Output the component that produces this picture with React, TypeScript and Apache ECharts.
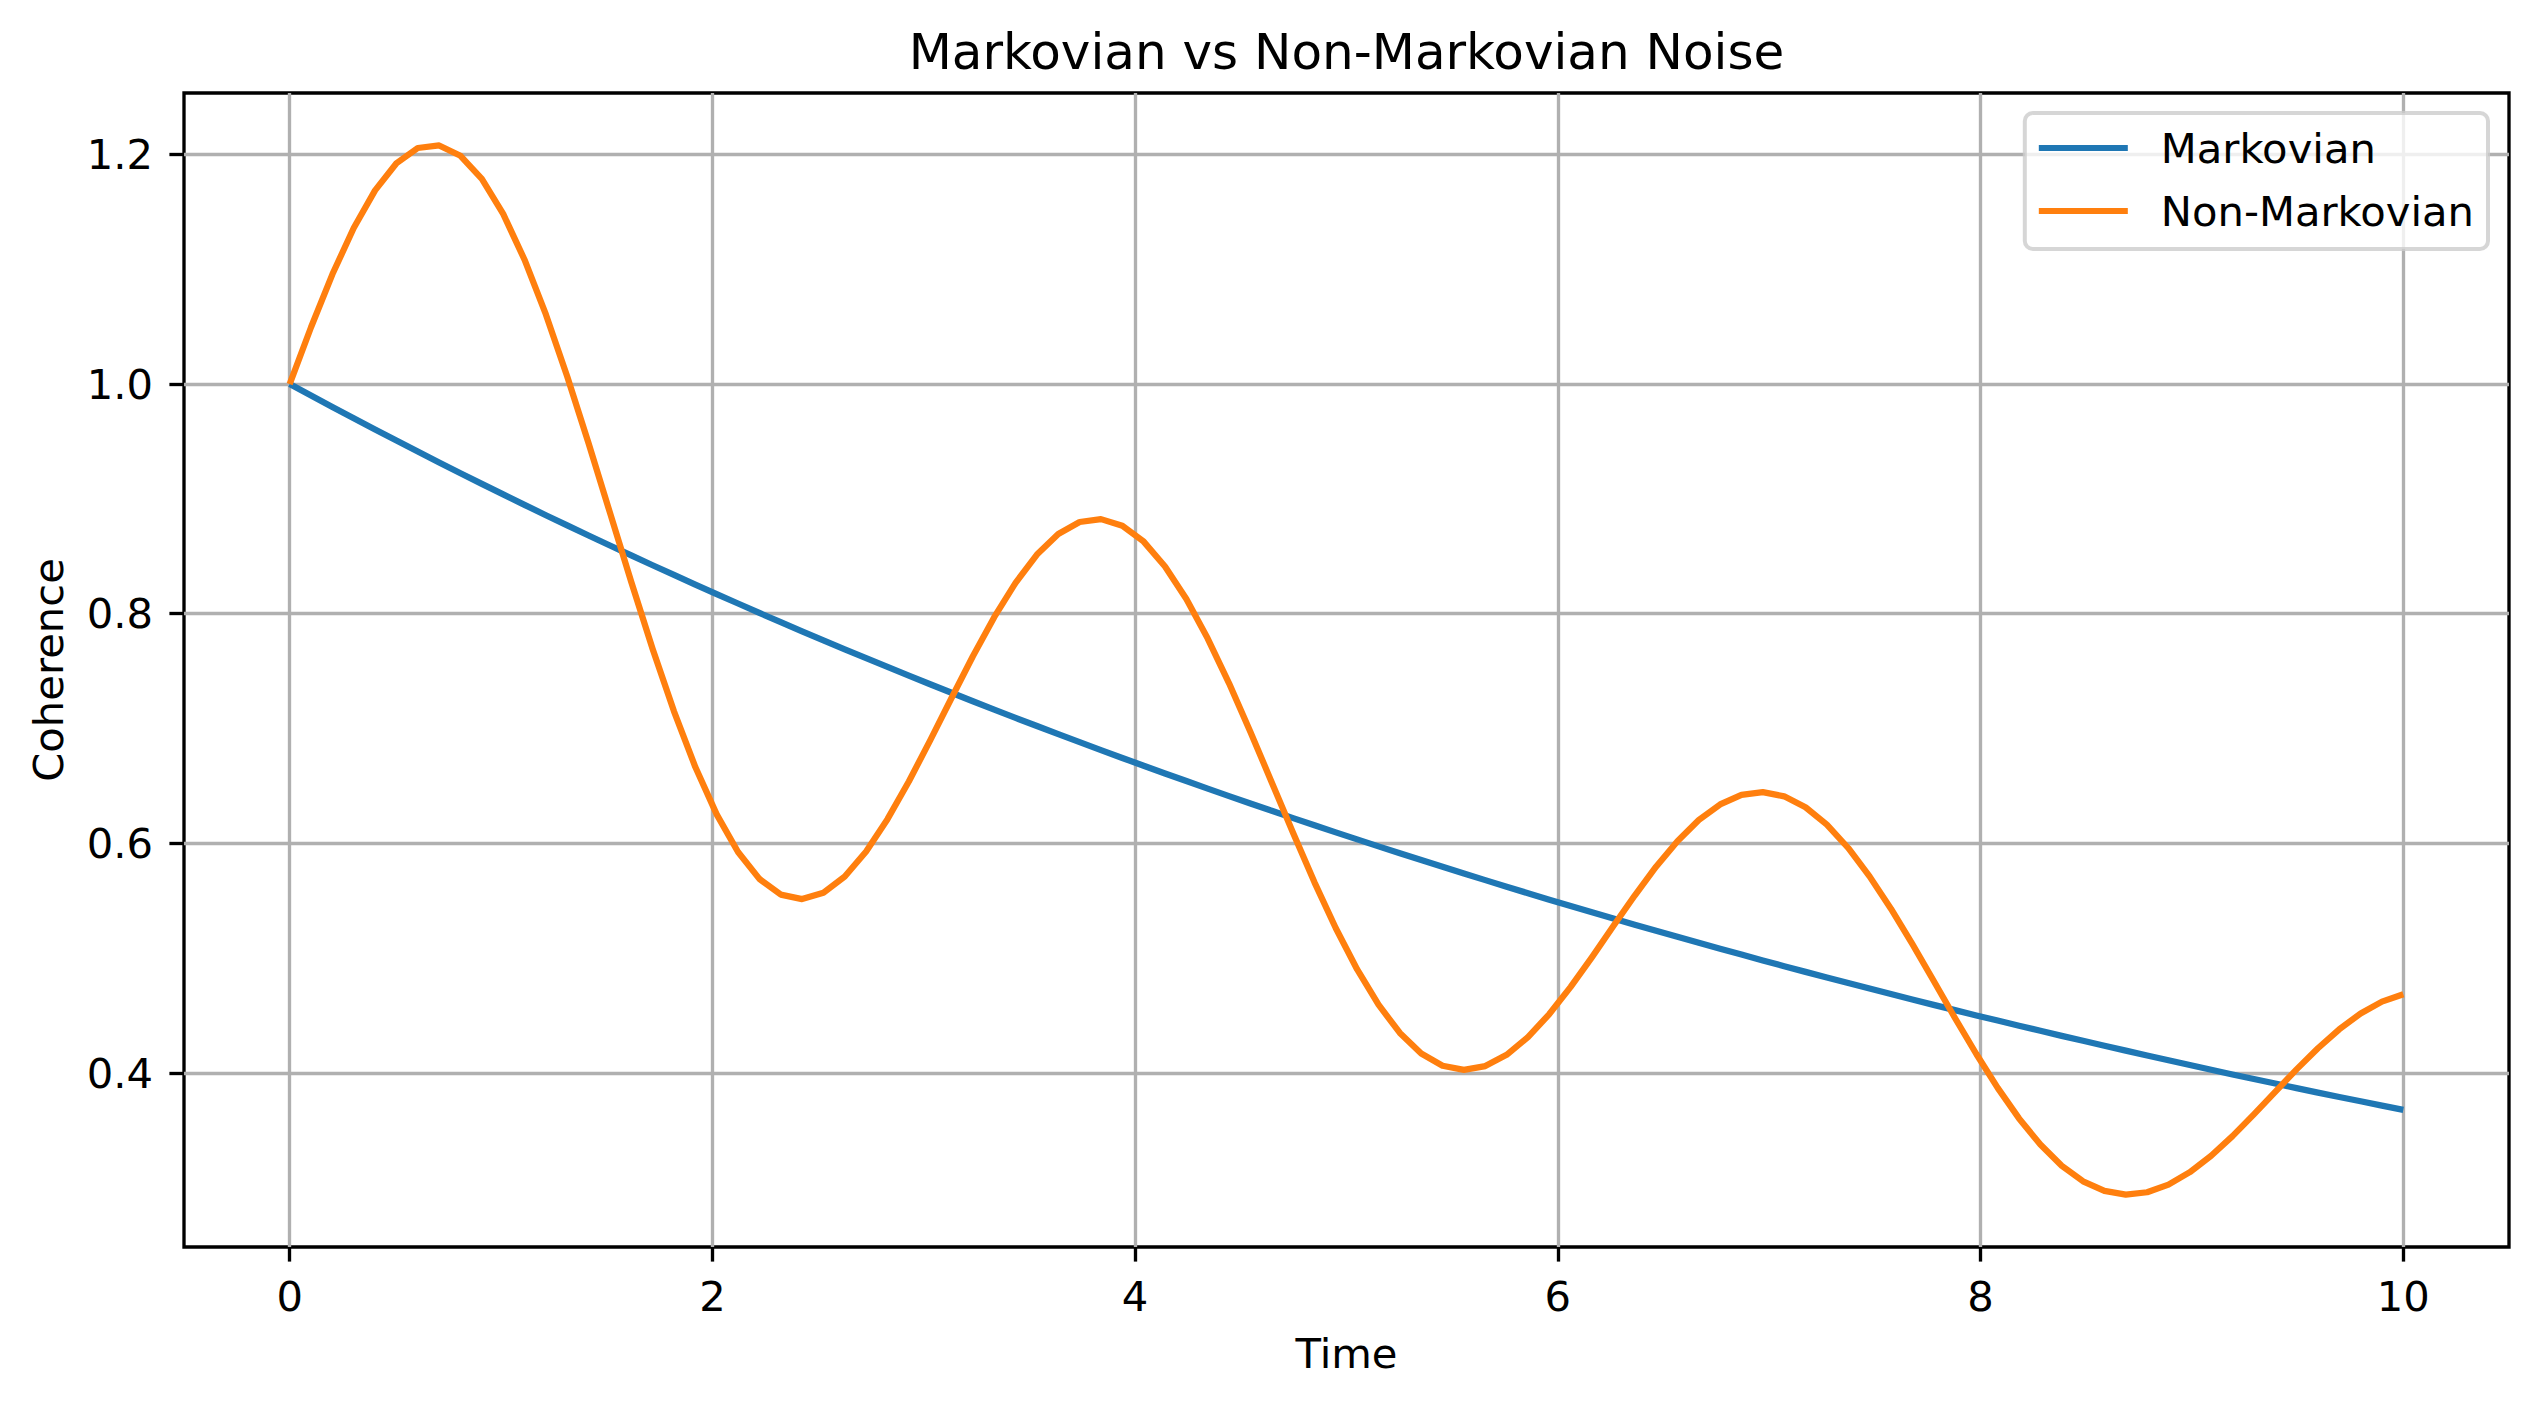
import React, { useEffect, useRef } from "react";
import * as echarts from "echarts";

// Sample times (s) shared by both curves
const time = [
  0, 0.101, 0.202, 0.303, 0.404, 0.5051, 0.6061, 0.7071, 0.8081, 0.9091,
  1.0101, 1.1111, 1.2121, 1.3131, 1.4141, 1.5152, 1.6162, 1.7172, 1.8182, 1.9192,
  2.0202, 2.1212, 2.2222, 2.3232, 2.4242, 2.5253, 2.6263, 2.7273, 2.8283, 2.9293,
  3.0303, 3.1313, 3.2323, 3.3333, 3.4343, 3.5354, 3.6364, 3.7374, 3.8384, 3.9394,
  4.0404, 4.1414, 4.2424, 4.3434, 4.4444, 4.5455, 4.6465, 4.7475, 4.8485, 4.9495,
  5.0505, 5.1515, 5.2525, 5.3535, 5.4545, 5.5556, 5.6566, 5.7576, 5.8586, 5.9596,
  6.0606, 6.1616, 6.2626, 6.3636, 6.4646, 6.5657, 6.6667, 6.7677, 6.8687, 6.9697,
  7.0707, 7.1717, 7.2727, 7.3737, 7.4747, 7.5758, 7.6768, 7.7778, 7.8788, 7.9798,
  8.0808, 8.1818, 8.2828, 8.3838, 8.4848, 8.5859, 8.6869, 8.7879, 8.8889, 8.9899,
  9.0909, 9.1919, 9.2929, 9.3939, 9.4949, 9.596, 9.697, 9.798, 9.899, 10,
];

// Coherence under memoryless (Markovian) dephasing
const markovian = [
  1.0, 0.99, 0.98, 0.9702, 0.9604, 0.9508, 0.9412, 0.9317, 0.9224, 0.9131,
  0.9039, 0.8948, 0.8858, 0.8769, 0.8681, 0.8594, 0.8508, 0.8422, 0.8338, 0.8254,
  0.8171, 0.8089, 0.8007, 0.7927, 0.7847, 0.7768, 0.769, 0.7613, 0.7537, 0.7461,
  0.7386, 0.7312, 0.7238, 0.7165, 0.7093, 0.7022, 0.6951, 0.6882, 0.6812, 0.6744,
  0.6676, 0.6609, 0.6543, 0.6477, 0.6412, 0.6347, 0.6284, 0.622, 0.6158, 0.6096,
  0.6035, 0.5974, 0.5914, 0.5855, 0.5796, 0.5738, 0.568, 0.5623, 0.5566, 0.551,
  0.5455, 0.54, 0.5346, 0.5292, 0.5239, 0.5186, 0.5134, 0.5083, 0.5032, 0.4981,
  0.4931, 0.4881, 0.4832, 0.4784, 0.4736, 0.4688, 0.4641, 0.4594, 0.4548, 0.4502,
  0.4457, 0.4412, 0.4368, 0.4324, 0.4281, 0.4238, 0.4195, 0.4153, 0.4111, 0.407,
  0.4029, 0.3988, 0.3948, 0.3909, 0.3869, 0.383, 0.3792, 0.3754, 0.3716, 0.3679,
];

// Coherence with memory effects (revivals from information backflow)
const nonMarkovian = [
  1.0, 1.0495, 1.0956, 1.1359, 1.1687, 1.1923, 1.2056, 1.2078, 1.1988, 1.1787,
  1.1482, 1.1083, 1.0606, 1.0066, 0.9484, 0.888, 0.8276, 0.7693, 0.715, 0.6665,
  0.6253, 0.5925, 0.5691, 0.5554, 0.5515, 0.557, 0.5712, 0.593, 0.6211, 0.6539,
  0.6897, 0.7266, 0.763, 0.797, 0.8269, 0.8515, 0.8694, 0.8799, 0.8824, 0.8767,
  0.8628, 0.8412, 0.8128, 0.7784, 0.7394, 0.6971, 0.6531, 0.609, 0.5661, 0.5261,
  0.4902, 0.4595, 0.4349, 0.4171, 0.4064, 0.4028, 0.4061, 0.4159, 0.4313, 0.4514,
  0.475, 0.501, 0.528, 0.5546, 0.5797, 0.6019, 0.6203, 0.6339, 0.6422, 0.6446,
  0.641, 0.6315, 0.6163, 0.596, 0.5713, 0.5431, 0.5124, 0.4804, 0.448, 0.4166,
  0.3871, 0.3605, 0.3377, 0.3193, 0.3057, 0.2974, 0.2942, 0.2962, 0.3028, 0.3137,
  0.328, 0.3451, 0.364, 0.3836, 0.4032, 0.4216, 0.4381, 0.4519, 0.4622, 0.4686,
];

const seriesNames = ["Markovian", "Non-Markovian"];
const seriesColors = ["#1f77b4", "#ff7f0e"];
const xTicks = [0, 2, 4, 6, 8, 10];
const yTicks = [0.4, 0.6, 0.8, 1.0, 1.2];

const W = 2539;
const H = 1407;
const FONT = "'DejaVu Sans', 'Liberation Sans', sans-serif";
const PLOT = { left: 184, top: 93, right: 2509, bottom: 1247 };
const TICK_FONT = 41.7;
const SPINE = 3.33;

// Axis limits with a 5% margin on each side of the data extent
function paddedRange(values: number[], frac = 0.05): [number, number] {
  const lo = Math.min(...values);
  const hi = Math.max(...values);
  const pad = (hi - lo) * frac;
  return [lo - pad, hi + pad];
}

export default function App() {
  const ref = useRef<HTMLDivElement>(null);

  useEffect(() => {
    if (!ref.current) return;
    const chart = echarts.init(ref.current, null, { renderer: "svg", width: W, height: H });
    const [xMin, xMax] = paddedRange(time);
    const [yMin, yMax] = paddedRange([...markovian, ...nonMarkovian]);

    const line = (idx: number, values: number[]) => ({
      type: "line",
      name: seriesNames[idx],
      data: time.map((t, i) => [t, values[i]]),
      symbol: "none",
      showSymbol: false,
      silent: true,
      lineStyle: { width: 6.25, color: seriesColors[idx], join: "round", cap: "butt" },
      itemStyle: { color: seriesColors[idx] },
      emphasis: { disabled: true },
    });

    chart.setOption({
      animation: false,
      backgroundColor: "#ffffff",
      textStyle: { fontFamily: FONT },
      graphic: [
        {
          type: "text",
          x: (PLOT.left + PLOT.right) / 2,
          y: 51.7,
          z: 10,
          style: {
            text: "Markovian vs Non-Markovian Noise",
            fontFamily: FONT,
            fontSize: 50,
            fill: "#000",
            align: "center",
            verticalAlign: "middle",
          },
        },
      ],
      grid: {
        left: PLOT.left,
        top: PLOT.top,
        width: PLOT.right - PLOT.left,
        height: PLOT.bottom - PLOT.top,
        show: true,
        borderColor: "#000",
        borderWidth: SPINE,
        backgroundColor: "transparent",
        containLabel: false,
      },
      legend: {
        data: seriesNames,
        orient: "vertical",
        right: W - 2488,
        top: 113,
        icon: "rect",
        itemWidth: 89,
        itemHeight: 6,
        itemGap: 21,
        selectedMode: false,
        padding: [14, 14, 17, 14],
        backgroundColor: "rgba(255,255,255,0.8)",
        borderColor: "rgba(204,204,204,0.8)",
        borderWidth: 4,
        borderRadius: 8,
        textStyle: {
          fontFamily: FONT,
          fontSize: TICK_FONT,
          color: "#000",
          lineHeight: 42,
          padding: [0, 0, 0, 28],
        },
      },
      xAxis: {
        type: "value",
        min: xMin,
        max: xMax,
        name: "Time",
        nameLocation: "middle",
        nameGap: 85,
        nameTextStyle: { fontFamily: FONT, fontSize: TICK_FONT, color: "#000" },
        axisLine: { show: false, onZero: false },
        axisTick: {
          show: true,
          length: 14.6,
          lineStyle: { color: "#000", width: SPINE },
          customValues: xTicks,
        },
        axisLabel: {
          customValues: xTicks,
          fontFamily: FONT,
          fontSize: TICK_FONT,
          color: "#000",
          margin: 28,
          formatter: (v: number) => String(v),
        },
        splitLine: { show: true, lineStyle: { color: "#b0b0b0", width: SPINE } },
      },
      yAxis: {
        type: "value",
        min: yMin,
        max: yMax,
        name: "Coherence",
        nameLocation: "middle",
        nameGap: 114.6,
        nameRotate: 90,
        nameTextStyle: { fontFamily: FONT, fontSize: TICK_FONT, color: "#000" },
        axisLine: { show: false, onZero: false },
        axisTick: {
          show: true,
          length: 14.6,
          lineStyle: { color: "#000", width: SPINE },
          customValues: yTicks,
        },
        axisLabel: {
          customValues: yTicks,
          fontFamily: FONT,
          fontSize: TICK_FONT,
          color: "#000",
          margin: 31,
          formatter: (v: number) => v.toFixed(1),
        },
        splitLine: { show: true, lineStyle: { color: "#b0b0b0", width: SPINE } },
      },
      series: [line(0, markovian), line(1, nonMarkovian)],
    });

    return () => chart.dispose();
  }, []);

  return (
    <div
      ref={ref}
      style={{ position: "fixed", left: 0, top: 0, width: W, height: H, background: "#fff" }}
    />
  );
}
